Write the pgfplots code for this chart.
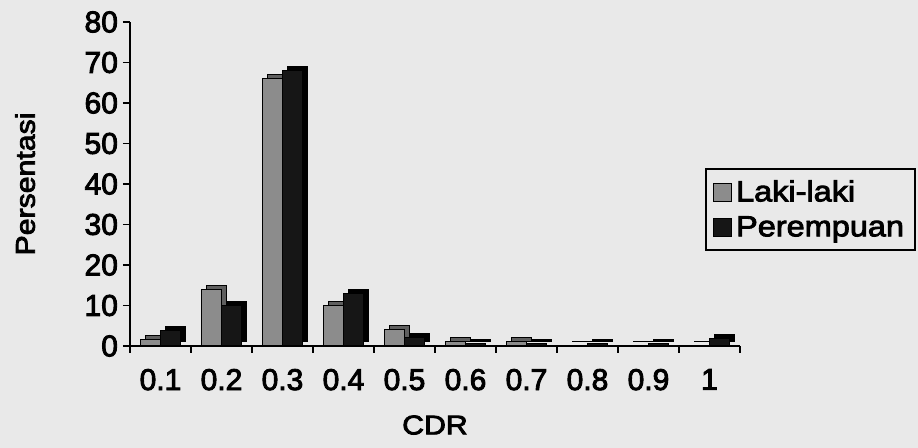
\documentclass[border=0pt]{standalone}
\usepackage{pgfplots}
\pgfplotsset{compat=1.18}
\usepackage{fontspec}
\setmainfont[FakeStretch=1.12, FakeBold=3]{Liberation Sans}
\newfontfamily\tickfamily[FakeBold=3]{Liberation Sans}

\definecolor{paper}{RGB}{233,233,233}
\definecolor{lakifill}{RGB}{140,140,140}
\definecolor{lakiside}{RGB}{95,95,95}
\definecolor{perfill}{RGB}{22,22,22}

\newcommand{\labelfont}{\fontsize{13.5}{16}\selectfont}
\newcommand{\tickfont}{\tickfamily\fontsize{15}{17}\selectfont}
\newcommand{\legendfont}{\fontsize{14.5}{17.4}\selectfont}

% CDR distribution (percent) by sex
\pgfplotstableread{
x laki perempuan
1 1.5 3.8
2 14 10
3 66 68
4 10 13
5 4 2
6 1.0 0.5
7 1.2 0.6
8 0.2 0.6
9 0.2 0.6
10 0.2 1.8
}\cdrdata

\begin{document}
\begin{tikzpicture}
\fill[paper] (0,0) rectangle (459pt,224pt);
\useasboundingbox (0,0) rectangle (459pt,224pt);
\begin{axis}[
  at={(65pt,51pt)}, anchor=south west,
  scale only axis,
  width=305pt, height=162pt,
  xmin=0.5, xmax=10.5,
  ymin=0, ymax=80,
  ytick={0,10,...,80},
  yticklabels={0,10,20,30,40,50,60,70,80},
  xtick={0.5,1.5,...,10.5},
  x tick label as interval,
  xticklabels={0.1,0.2,0.3,0.4,0.5,0.6,0.7,0.8,0.9,1},
  axis lines*=left,
  axis line style={line width=1pt, -},
  tick style={line width=0.9pt, black},
  tick align=outside,
  major tick length=3.5pt,
  /pgf/number format/assume math mode=true,
  every tick label/.append style={font=\tickfont},
  yticklabel style={xshift=1pt},
  ylabel={Persentasi},
  xlabel={CDR},
  every axis y label/.style={at={(axis description cs:-0.172,0.5)}, rotate=90, anchor=center, font=\labelfont},
  every axis x label/.style={at={(axis description cs:0.5,-0.244)}, anchor=center, font=\labelfont},
  xticklabel style={yshift=-4.5pt},
  ybar, bar width=10pt,
  legend style={
    at={(0.943,0.548)}, anchor=north west,
    draw=black, line width=0.9pt, fill=none,
    font=\legendfont,
    row sep=2pt, inner sep=3.5pt,
    legend cell align=left,
  },
  legend image code/.code={\draw[line width=0.5pt, #1] (0pt,-4.5pt) rectangle (9pt,4.5pt);},
]
% depth faces of the bars
\addplot[forget plot, bar shift=-5pt, xshift=2.5pt, yshift=2pt, fill=lakiside, draw=black, line width=0.5pt] table[x=x, y=laki] {\cdrdata};
\addplot[bar shift=-5pt, fill=lakifill, draw=black, line width=0.5pt] table[x=x, y=laki] {\cdrdata};
\addplot[forget plot, bar shift=5pt, xshift=2.5pt, yshift=2pt, fill=black, draw=black, line width=0.5pt] table[x=x, y=perempuan] {\cdrdata};
\addplot[bar shift=5pt, fill=perfill, draw=black, line width=0.5pt] table[x=x, y=perempuan] {\cdrdata};
\legend{Laki-laki, Perempuan}
\end{axis}
\end{tikzpicture}
\end{document}
